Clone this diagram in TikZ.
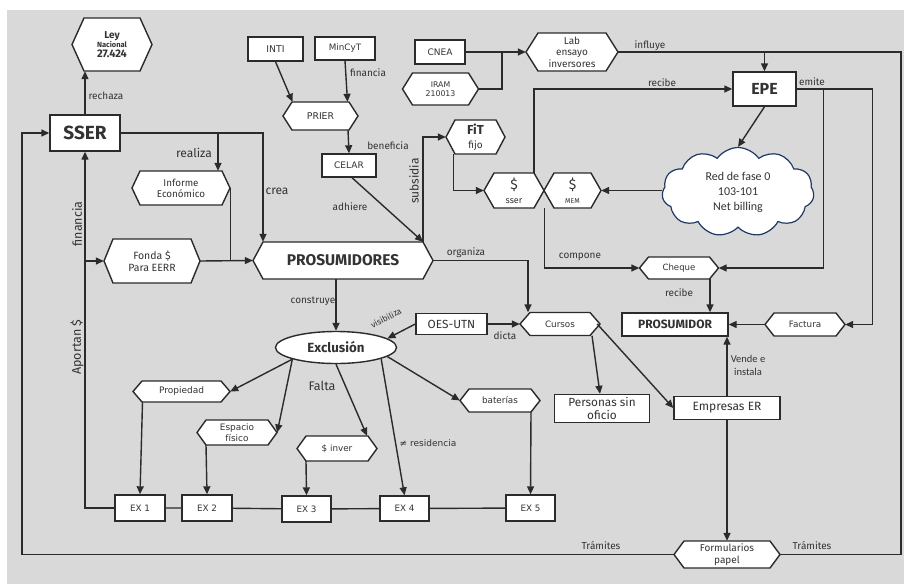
\documentclass[tikz,border=0pt]{standalone}
\usepackage{fontspec}
\setmainfont{Fira Sans}
\newfontfamily\dejav{DejaVu Sans}
\newfontfamily\carl{Carlito}
\usetikzlibrary{arrows.meta,shapes.symbols,shapes.geometric,calc}
\definecolor{bgc}{HTML}{D9D9D9}
\definecolor{ink}{HTML}{2B2B2B}
\definecolor{txt}{HTML}{333333}
\definecolor{cloudc}{HTML}{1F3864}
\newcommand\fsz[2]{\fontsize{#1}{#2}\selectfont}
% name, x, y, width, height, tip depth, node options, text
\newcommand\hexnode[8]{%
  \path[hexline] (#2-#4/2,#3) -- (#2-#4/2+#6,#3-#5/2) -- (#2+#4/2-#6,#3-#5/2) -- (#2+#4/2,#3) -- (#2+#4/2-#6,#3+#5/2) -- (#2-#4/2+#6,#3+#5/2) -- cycle;
  \node[hexin, minimum width=#4pt, minimum height=#5pt, #7] (#1) at (#2,#3) {#8};}
\begin{document}
\begin{tikzpicture}[x=1pt,y=-1pt,
  line/.style={draw=ink, line width=1.4pt},
  arr/.style={line, -{Triangle[length=8pt,width=7pt]}},
  box/.style={draw=ink, fill=white, line width=1.4pt, inner sep=0pt, align=center, text=txt},
  hexline/.style={draw=ink, fill=white, line width=1.4pt, line join=miter},
  hexin/.style={inner sep=0pt, align=center, text=txt},
  lbl/.style={text=txt, inner sep=0pt, align=center, font=\fsz{10}{12}},
]
\useasboundingbox (0,0) rectangle (904,584);
\fill[white] (0,0) rectangle (904,584);
\fill[bgc] (7,10) rectangle (904,584);

% ---------- nodes ----------
\node[box, minimum width=70pt, minimum height=36pt, font=\fsz{19}{20}\bfseries] (sser) at (85,133) {SSER};
\hexnode{ley}{112}{44.5}{80}{53}{12}{font=\fsz{9}{9.5}\bfseries}{{\fsz{10}{10}Ley}\\{\fsz{7.5}{7.5}Nacional}\\{\fsz{11}{11}27.424}}
\node[box, minimum width=55pt, minimum height=24pt, font=\dejav\fsz{9.3}{11}] (inti) at (275.5,49) {INTI};
\node[box, minimum width=60pt, minimum height=23pt, font=\dejav\fsz{8.8}{11}] (mincyt) at (345,48.5) {MinCyT};
\hexnode{prier}{320.5}{116}{75}{28}{9}{font=\dejav\fsz{9.3}{11}}{PRIER}
\node[box, minimum width=54pt, minimum height=23pt, font=\dejav\fsz{9}{11}] (celar) at (349,165.5) {CELAR};
\node[box, minimum width=50pt, minimum height=24pt, font=\dejav\fsz{9}{11}] (cnea) at (440,52) {CNEA};
\hexnode{iram}{440.5}{89}{76}{32}{10}{font=\dejav\fsz{7.8}{9.5}}{IRAM\\210013}
\hexnode{lab}{572}{52}{92}{38}{12}{font=\fsz{10}{11.5}}{Lab\\ensayo\\inversores}
\node[box, minimum width=63pt, minimum height=34pt, font=\fsz{16}{18}\bfseries] (epe) at (764.5,89) {EPE};
\hexnode{fit}{475.5}{137}{59}{34}{9}{font=\fsz{10}{14}}{{\fsz{13}{13}\bfseries FiT}\\fijo}
\hexnode{dsser}{514}{190.5}{60}{35}{10}{font=\fsz{9}{14}}{{\fsz{14}{14}\$}\\sser}
\hexnode{dmem}{572.5}{190.5}{57}{35}{10}{font=\fsz{7}{14}}{{\fsz{14}{14}\$}\\MEM}
\node[cloud, cloud puffs=11, cloud puff arc=110, aspect=1.7, draw=cloudc, fill=white, line width=1.2pt,
  minimum width=152pt, minimum height=89pt, inner sep=0pt, align=center, text=txt,
  font=\carl\fsz{12}{15}] (cloud) at (738,192) {Red de fase 0\\103-101\\Net billing};
\hexnode{informe}{181}{188}{98}{34}{8}{font=\fsz{9.8}{11}}{Informe\\Económico}
\hexnode{fonda}{152}{261}{96}{44}{9}{font=\fsz{10.5}{12}}{Fonda \$\\Para EERR}
\hexnode{prosumidores}{343}{260.5}{180}{37}{10}{font=\fsz{15.5}{17}\bfseries}{PROSUMIDORES}
\node[ellipse, draw=ink, fill=white, line width=1.4pt, minimum width=121pt, minimum height=32pt, inner sep=0pt,
  font=\fsz{13.3}{15}\bfseries, text=txt] (exclusion) at (336,347.5) {Exclusión};
\node[box, minimum width=71pt, minimum height=21pt, font=\fsz{11.8}{13}] (oes) at (451.5,324) {OES-UTN};
\hexnode{cursos}{560}{324}{80}{23}{10}{font=\dejav\fsz{8.8}{10}}{Cursos}
\hexnode{cheque}{679}{268}{79}{22}{9}{font=\dejav\fsz{8.6}{10}}{Cheque}
\node[box, minimum width=106pt, minimum height=23pt, font=\fsz{12}{13}\bfseries] (prosumidor) at (675,324.5) {PROSUMIDOR};
\hexnode{factura}{805}{324.5}{80}{23}{9}{font=\dejav\fsz{8.8}{10}}{Factura}
\node[box, minimum width=95pt, minimum height=28pt, font=\fsz{11.8}{12.5}] (personas) at (602,408.5) {Personas sin\\oficio};
\node[box, minimum width=106pt, minimum height=23pt, font=\fsz{12}{13}] (empresas) at (727,408) {Empresas ER};
\hexnode{formularios}{727}{554.5}{106}{27}{10}{font=\fsz{10}{12}}{Formularios\\papel}
\hexnode{propiedad}{181.5}{391.5}{97}{21}{9}{font=\dejav\fsz{9}{10}}{Propiedad}
\hexnode{espacio}{237}{432.5}{80}{25}{9}{font=\dejav\fsz{8.9}{10.5}}{Espacio\\físico}
\hexnode{inver}{337}{448.5}{80}{25}{9}{font=\dejav\fsz{8.8}{10}}{\$ inver}
\hexnode{baterias}{500}{400.5}{80}{23}{9}{font=\dejav\fsz{8.8}{10}}{baterías}
\node[box, minimum width=50pt, minimum height=26pt, font=\dejav\fsz{8.8}{10}] (ex1) at (140,508) {EX 1};
\node[box, minimum width=50pt, minimum height=26pt, font=\dejav\fsz{8.8}{10}] (ex2) at (207,508) {EX 2};
\node[box, minimum width=49pt, minimum height=26pt, font=\dejav\fsz{8.8}{10}] (ex3) at (306.5,509) {EX 3};
\node[box, minimum width=49pt, minimum height=25pt, font=\dejav\fsz{8.8}{10}] (ex4) at (404.5,508.5) {EX 4};
\node[box, minimum width=49pt, minimum height=26pt, font=\dejav\fsz{8.8}{10}] (ex5) at (530.5,508) {EX 5};

% ---------- connectors ----------
\draw[arr] (sser.north) -- (sser.north |- ley.south);
\draw[arr] (formularios.west) -- ++(-652,0) |- (sser.west);
\draw[line] (lab.east) -- (901,52) |- (formularios.east);
\draw[arr] (epe.north |- lab.east) -- (epe.north);
\draw[arr] (cnea.east) -- (lab.west);
\draw[line] (iram.east) -| (502,52);
\draw[arr] (inti.south) -- ([xshift=-28pt]prier.north);
\draw[arr] (mincyt.south) -- ([xshift=27pt]prier.north);
\draw[arr] ([xshift=27.5pt]prier.south) -- (celar.north);
\draw[arr] ([xshift=3pt]celar.south) -- ([xshift=80pt]prosumidores.north);
\draw[arr] ([xshift=80pt]prosumidores.north) |- (fit.west);
\draw[arr] ([xshift=-22pt]fit.south) |- (dsser.west);
\draw[arr] ([xshift=20pt]dsser.north) |- (epe.west);
\draw[arr] (epe.south) -- (cloud.north);
\draw[arr] (cloud.west |- dmem.east) -- (dmem.east);
\draw[arr] (dsser.south east) |- (cheque.west);
\draw[arr] (epe.east) -| ([xshift=27pt]factura.east) -- (factura.east);
\draw[arr] ([xshift=27pt]epe.east) |- (cheque.east);
\draw[arr] ([xshift=31pt]cheque.south) -- ([xshift=31pt]cheque.south |- prosumidor.north);
\draw[arr] (factura.west) -- (prosumidor.east);
\draw[arr] (empresas.north) -- (empresas.north |- prosumidor.south);
\draw[arr] (empresas.south) -- (formularios.north);
\draw[arr] ([xshift=32pt]cursos.south) -- ([xshift=-2pt]personas.north);
\draw[arr] ([xshift=-3pt]cursos.east) -- (empresas.west);
\draw[arr] (prosumidores.east) -| ([xshift=-32pt]cursos.north);
\draw[arr] (oes.east) -- (cursos.west);
\draw[arr] (oes.west) -- (exclusion.10);
\draw[arr] (exclusion.north |- prosumidores.south) -- (exclusion.north);
\draw[arr] (exclusion.195) -- (propiedad.east);
\draw[arr] (exclusion.195) -- (espacio.east);
\draw[arr] (exclusion.south) -- ([xshift=30pt]inver.north);
\draw[arr] (exclusion.346) -- (ex4.north);
\draw[arr] (exclusion.350) -- (baterias.west);
\draw[arr] ([xshift=-39pt]propiedad.south) -- (ex1.north);
\draw[arr] ([xshift=-31pt]espacio.south) -- (ex2.north);
\draw[arr] ([xshift=-31pt]inver.south) -- (ex3.north);
\draw[arr] ([xshift=31pt]baterias.south) -- (ex5.north);
\draw[line] (ex1) -- (ex2) (ex2) -- (ex3) (ex3) -- (ex4) (ex4) -- (ex5);
\draw[arr] (ex1.west) -| (sser.south);
\draw[arr] (sser.south |- fonda.west) -- (fonda.west);
\draw[arr] (sser.east) -| ([xshift=-80pt]prosumidores.north);
\draw[arr] ([xshift=37pt]informe.north |- sser.east) -- ([xshift=37pt]informe.north);
\draw[line] (informe.east) -- (informe.east |- prosumidores.west);
\draw[arr] (fonda.east) -- (prosumidores.west);

% ---------- labels ----------
\node[lbl] (lrechaza) at (106,96) {rechaza};
\node[lbl, font=\fsz{12}{14}] (lrealiza) at (194,153) {realiza};
\node[lbl, font=\fsz{12}{14}] (lcrea) at (277,191) {crea};
\node[lbl, font=\fsz{12.5}{14}, rotate=90] (lfinancia) at (77,224) {financia};
\node[lbl, font=\fsz{12.5}{14}, rotate=90] (laportan) at (77,347) {Aportan \$};
\node[lbl] (lfinancia2) at (368,73) {financia};
\node[lbl] (lbeneficia) at (388,146) {beneficia};
\node[lbl] (ladhiere) at (350,207) {adhiere};
\node[lbl, font=\fsz{12}{14}, rotate=90] (lsubsidia) at (414,181) {subsidia};
\node[lbl] (linfluye) at (650,46) {influye};
\node[lbl] (lrecibe) at (662,83) {recibe};
\node[lbl] (lemite) at (812,82) {emite};
\node[lbl] (lorganiza) at (466,253) {organiza};
\node[lbl] (lcompone) at (580,257) {compone};
\node[lbl] (lrecibe2) at (679,293) {recibe};
\node[lbl] (lconstruye) at (313,301) {construye};
\node[lbl, font=\fsz{8.5}{10}, rotate=28] (lvisibiliza) at (386,318) {visibiliza};
\node[lbl] (ldicta) at (505,336) {dicta};
\node[lbl, font=\fsz{12.5}{14}] (lfalta) at (322,386) {Falta};
\node[lbl, font=\dejav\fsz{9}{11}] (lresid) at (428,443) {≠ residencia};
\node[lbl, font=\carl\fsz{10.5}{13}] (lvende) at (748,365) {Vende e\\instala};
\node[lbl] (ltram1) at (601,546) {Trámites};
\node[lbl] (ltram2) at (812,546) {Trámites};
\end{tikzpicture}
\end{document}
